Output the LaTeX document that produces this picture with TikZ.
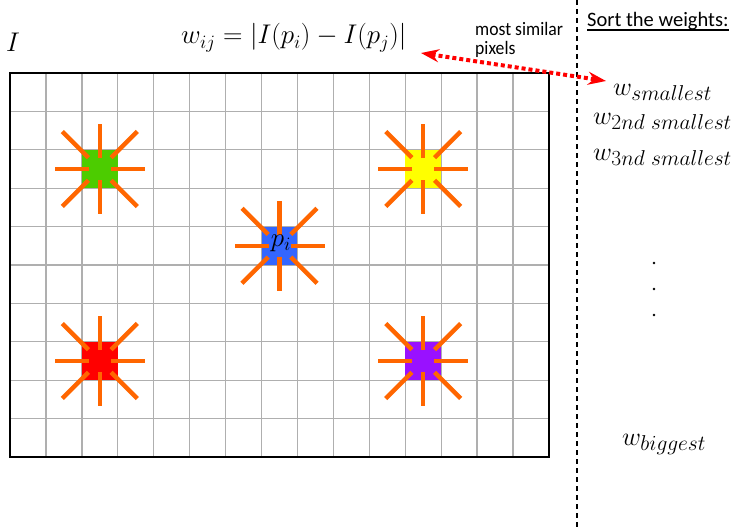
\RequirePackage{fix-cm}
\documentclass[tikz,border=0pt]{standalone}
\usepackage{fontspec}
\newfontfamily\calfont{Carlito}
\usetikzlibrary{arrows.meta}
\definecolor{rayor}{RGB}{255,102,0}
\definecolor{cgreen}{RGB}{76,204,0}
\definecolor{cyellow}{RGB}{255,255,0}
\definecolor{cblue}{RGB}{51,102,255}
\definecolor{cred}{RGB}{255,0,0}
\definecolor{cpurple}{RGB}{153,17,255}
\definecolor{gridgray}{RGB}{175,175,175}
\newcommand\bigsub[1]{\hbox{\fontsize{21.5}{25}\selectfont$#1$}}
\tikzset{
  gridline/.style={draw=gridgray, line width=1.3pt},
  frame/.style={draw=black, line width=2pt},
  cellsq/.style={minimum width=35.9pt, minimum height=38.4pt, inner sep=0pt, draw=none},
  ray/.style={draw=rayor, line width=4.5pt},
  mathlbl/.style={inner sep=0pt, font=\fontsize{27}{32}\selectfont},
  sidelbl/.style={inner sep=0pt, anchor=base west, font=\fontsize{26}{31}\selectfont},
  smalltxt/.style={inner sep=0pt, anchor=base west, font=\calfont\fontsize{19}{22}\selectfont},
  burst/.pic={
    \foreach \a in {0,90,180,270} \draw[ray] (\a:11) -- (\a:45);
    \foreach \a in {45,135,225,315} \draw[ray] (\a:16) -- (\a:53);
  }
}
\begin{document}
\begin{tikzpicture}[x=1pt,y=-1pt]
\useasboundingbox (0,0) rectangle (735,527);
% grid
\foreach \i in {1,...,14} \draw[gridline] ({10+\i*539/15},73) -- ({10+\i*539/15},457);
\foreach \j in {1,...,9} \draw[gridline] (10,{73+\j*38.4}) -- (549,{73+\j*38.4});
\draw[frame] (10,73) rectangle (549,457);
% coloured cells
\node[cellsq, fill=cgreen]  (g) at (99.8,169) {};
\node[cellsq, fill=cyellow] (y) at (423.2,169) {};
\node[cellsq, fill=cblue]   (b) at (279.5,245.8) {};
\node[cellsq, fill=cred]    (r) at (99.8,361) {};
\node[cellsq, fill=cpurple] (p) at (423.2,361) {};
\pic at (g) {burst};
\pic at (y) {burst};
\pic at (b) {burst};
\pic at (r) {burst};
\pic at (p) {burst};
\node[mathlbl] (pi) at (281,243) {$p_i$};
% labels
\node[mathlbl, anchor=base west] (I) at (6,52) {$I$};
\node[mathlbl, anchor=base west] (f) at (181,44) {$w_{ij}=|I(p_i)-I(p_j)|$};
\node[smalltxt] (ms1) at (475,36) {\scalebox{0.93}[1]{most similar}};
\node[smalltxt] (ms2) at (475,55) {\scalebox{0.93}[1]{pixels}};
\node[inner sep=0pt, anchor=base west, font=\calfont\fontsize{20.5}{24}\selectfont] (sort) at (587,27) {Sort the weights:};
\draw[line width=1.3pt] ([yshift=-3pt]sort.base west) -- ([yshift=-3pt]sort.base east);
% divider
\coordinate (dtop) at (577,0);
\coordinate (dbot) at (577,527);
\draw[line width=1.7pt, dash pattern=on 5pt off 4pt] (dtop) -- (dbot);
% right column
\node[sidelbl] (w1) at (613,95) {$w_{\bigsub{smallest}}$};
\node[sidelbl] (w2) at (593,124) {$w_{\bigsub{2nd\ smallest}}$};
\node[sidelbl] (w3) at (593,160) {$w_{\bigsub{3nd\ smallest}}$};
\foreach \yy in {263,289,315} \fill (654,\yy) circle (1.3pt);
\node[sidelbl] (wb) at (622,445) {$w_{\bigsub{biggest}}$};
% arrow
\coordinate (al) at (421,53);
\coordinate (ar) at (606,81);
\draw[draw=red, line width=4pt, dash pattern=on 4pt off 3pt,
      {Stealth[length=18pt,width=13pt,inset=6pt]}-{Stealth[length=18pt,width=13pt,inset=6pt]}] (al) -- (ar);
\end{tikzpicture}
\end{document}
